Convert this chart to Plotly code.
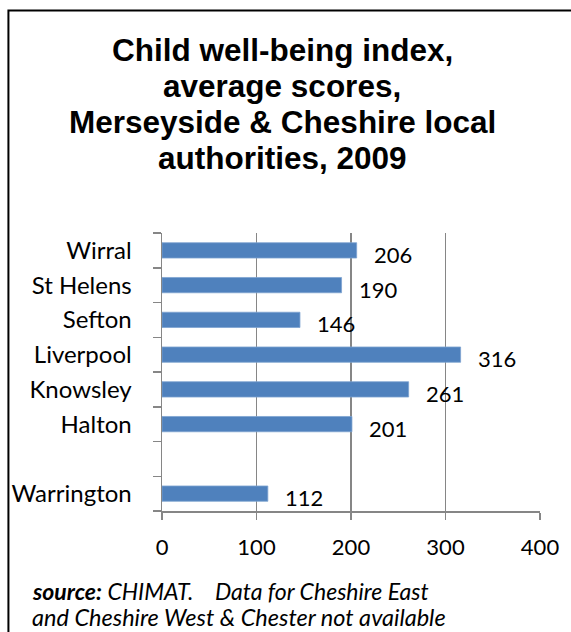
import plotly.graph_objects as go

categories = ["Warrington", " ", "Halton", "Knowsley", "Liverpool", "Sefton", "St Helens", "Wirral"]
scores = [112, None, 201, 261, 316, 146, 190, 206]
x_ticks = [0, 100, 200, 300, 400]
title_lines = ["Child well-being index,", "average scores,", "Merseyside & Cheshire local", "authorities, 2009"]

W, H = 571, 632
L, R, T, B = 161.7, 540.0, 232.7, 511.0
PW, PH = R - L, B - T


def px(x):
    return (x - L) / PW


def py(y):
    return (B - y) / PH


fig = go.Figure()
fig.add_trace(go.Bar(
    y=categories, x=scores, orientation="h",
    marker=dict(color="#4F81BD", line=dict(color="#7EA3D0", width=0.8)),
    width=0.44,
    hoverinfo="skip",
))

annotations = []
for c, v in zip(categories, scores):
    if v is None:
        continue
    annotations.append(dict(
        x=v, y=c, xref="x", yref="y", text=str(v), showarrow=False,
        xanchor="left", yanchor="middle", xshift=15, yshift=-4,
        font=dict(family="Lato", size=22, color="#000000"),
    ))

title_centers = [49.5, 85.5, 121.5, 157.5]
for line, yc in zip(title_lines, title_centers):
    annotations.append(dict(
        x=px(282), y=py(yc), xref="paper", yref="paper", text="<b>" + line + "</b>",
        showarrow=False, xanchor="center", yanchor="middle",
        font=dict(family="Liberation Sans", size=31.5, color="#000000"),
    ))

annotations.append(dict(
    x=px(30), y=py(591), xref="paper", yref="paper",
    text="<b><i>source:</i></b><i> CHIMAT.\u00a0\u00a0\u00a0\u00a0Data for Cheshire East</i>",
    showarrow=False, xanchor="left", yanchor="middle",
    font=dict(family="Lato", size=23, color="#000000"),
))
annotations.append(dict(
    x=px(30), y=py(617), xref="paper", yref="paper",
    text="<i>and Cheshire West &amp; Chester not available</i>",
    showarrow=False, xanchor="left", yanchor="middle",
    font=dict(family="Lato", size=23.5, color="#000000"),
))

fig.update_layout(
    width=W, height=H,
    margin=dict(l=L, r=W - R, t=T, b=H - B, pad=0),
    paper_bgcolor="#FFFFFF", plot_bgcolor="#FFFFFF",
    showlegend=False,
    annotations=annotations,
    shapes=[dict(
        type="rect", xref="paper", yref="paper",
        x0=px(8), x1=px(600), y0=py(660), y1=py(10),
        line=dict(color="#000000", width=2), fillcolor="rgba(0,0,0,0)", layer="below",
    )],
    xaxis=dict(
        range=[0, 400], tickvals=x_ticks, ticktext=[str(t) for t in x_ticks],
        showgrid=True, gridcolor="#868686", gridwidth=1.5,
        showline=True, linecolor="#868686", linewidth=1.5,
        ticks="outside", ticklen=7, tickcolor="#868686", tickwidth=1.5,
        tickfont=dict(family="Lato", size=22, color="#000000"),
        ticklabelstandoff=9, zeroline=False, fixedrange=True,
    ),
    yaxis=dict(
        categoryorder="array", categoryarray=categories,
        range=[-0.5, len(categories) - 0.5],
        showline=True, linecolor="#868686", linewidth=1.5,
        ticks="outside", tickson="boundaries", ticklen=8, tickcolor="#868686", tickwidth=1.5,
        tickfont=dict(family="Lato", size=24, color="#000000"),
        ticklabelstandoff=24, showgrid=False, zeroline=False, fixedrange=True,
    ),
)

fig.write_html(
    "out.html",
    config={"displayModeBar": False, "staticPlot": True},
    post_script="document.body.style.margin='0';document.body.style.overflow='hidden';",
)
